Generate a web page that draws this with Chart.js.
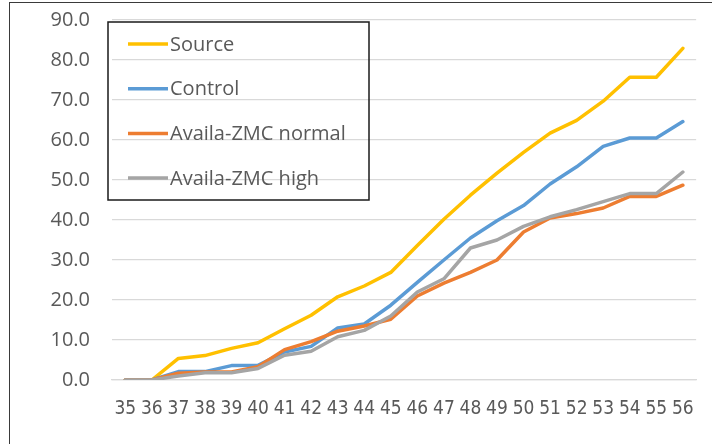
<!DOCTYPE html>
<html>
<head>
<meta charset="utf-8">
<script src="https://cdn.jsdelivr.net/npm/chart.js@4.4.1/dist/chart.umd.min.js"></script>
<style>
  html, body { margin: 0; padding: 0; background: #fff; }
  #wrap { position: relative; width: 712px; height: 444px; overflow: hidden; }
  #frame { position: absolute; left: 9px; top: 2px; right: -5px; bottom: -5px; border-left: 1.5px solid #3a3a3a; border-top: 1.5px solid #3a3a3a; pointer-events: none; }
  canvas { position: absolute; left: 0; top: 0; }
</style>
</head>
<body>
<div id="wrap">
  <canvas id="weekChart" width="712" height="444"></canvas>
  <div id="frame"></div>
</div>
<script>
var days = ['35','36','37','38','39','40','41','42','43','44','45','46','47','48','49','50','51','52','53','54','55','56'];

var source  = [0, 0, 5.4, 6.1, 7.9, 9.3, 12.8, 16.2, 20.8, 23.5, 26.9, 33.6, 40.2, 46.2, 51.7, 56.9, 61.7, 64.9, 69.7, 75.7, 75.7, 82.9];
var control = [0, 0, 2.1, 2.1, 3.6, 3.7, 7.0, 8.4, 13.0, 14.0, 18.7, 24.4, 30.0, 35.5, 39.8, 43.6, 49.0, 53.3, 58.4, 60.5, 60.5, 64.6];
var zmcNormal = [0, 0, 1.7, 2.0, 2.0, 3.3, 7.6, 9.6, 12.2, 13.5, 15.2, 21.0, 24.2, 26.9, 30.0, 37.0, 40.5, 41.6, 43.0, 45.9, 45.9, 48.7];
var zmcHigh   = [0, 0, 1.0, 1.8, 1.8, 2.9, 6.2, 7.2, 10.8, 12.4, 16.0, 22.0, 25.3, 33.0, 35.0, 38.4, 40.8, 42.6, 44.6, 46.6, 46.6, 52.0];

var yTicks = [0, 10, 20, 30, 40, 50, 60, 70, 80, 90];

var textColor = '#595959';

function line(label, values, color, order) {
  return {
    label: label,
    data: values,
    borderColor: color,
    backgroundColor: color,
    borderWidth: 3.5,
    pointRadius: 0,
    tension: 0,
    borderJoinStyle: 'round',
    borderCapStyle: 'round',
    order: order
  };
}

// boxed legend in the upper left, drawn over the grid
var boxLegend = {
  id: 'boxLegend',
  afterDatasetsDraw: function (chart) {
    var ctx = chart.ctx;
    ctx.save();
    ctx.strokeStyle = '#1a1a1a';
    ctx.lineWidth = 1.5;
    ctx.strokeRect(108, 22, 261, 178);
    ctx.font = '20px "Open Sans"';
    ctx.textBaseline = 'middle';
    ctx.fillStyle = textColor;
    chart.data.datasets.forEach(function (ds, i) {
      var y = 44 + i * 44.7;
      ctx.beginPath();
      ctx.strokeStyle = ds.borderColor;
      ctx.lineWidth = 3.5;
      ctx.moveTo(128, y);
      ctx.lineTo(168, y);
      ctx.stroke();
      ctx.fillText(ds.label, 170, y + 1);
    });
    ctx.restore();
  }
};

var weekChart = new Chart(document.getElementById('weekChart'), {
  type: 'line',
  data: {
    labels: days,
    datasets: [
      line('Source', source, '#FFC000', 4),
      line('Control', control, '#5B9BD5', 3),
      line('Availa-ZMC normal', zmcNormal, '#ED7D31', 2),
      line('Availa-ZMC high', zmcHigh, '#A5A5A5', 1)
    ]
  },
  options: {
    responsive: false,
    animation: false,
    layout: { padding: { top: 20, right: 12, bottom: 0, left: 0 } },
    scales: {
      x: {
        offset: true,
        grid: { display: false, drawTicks: false },
        border: { color: '#d9d9d9', width: 1.3 },
        ticks: {
          color: textColor,
          font: { family: '"DejaVu Sans Condensed", "Liberation Sans", sans-serif', size: 19 },
          padding: 18,
          maxRotation: 0,
          autoSkip: false
        },
        afterFit: function (s) { s.height = 64; }
      },
      y: {
        min: 0,
        max: 90,
        afterBuildTicks: function (s) { s.ticks = yTicks.map(function (v) { return { value: v }; }); },
        grid: { color: '#d9d9d9', lineWidth: 1.3, drawTicks: false },
        border: { display: false },
        ticks: {
          color: textColor,
          font: { family: '"Open Sans"', size: 20 },
          padding: 22,
          callback: function (v) { return v.toFixed(1); }
        },
        afterFit: function (s) {
          s.width = 112;
          s.paddingTop = 0;
          s.paddingBottom = 0;
        }
      }
    },
    plugins: {
      legend: { display: false },
      tooltip: { enabled: false }
    }
  },
  plugins: [boxLegend]
});
</script>
</body>
</html>
